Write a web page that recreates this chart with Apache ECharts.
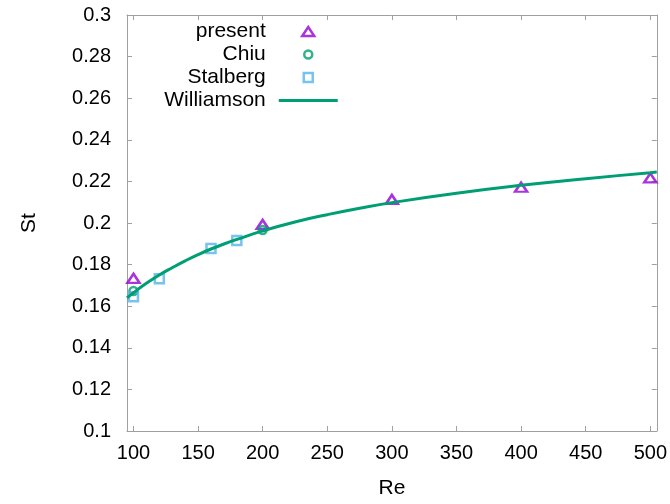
<!DOCTYPE html>
<html>
<head>
<meta charset="utf-8">
<script src="https://cdn.jsdelivr.net/npm/echarts@6/dist/echarts.min.js"></script>
<style>
html, body { margin: 0; padding: 0; background: #fff; }
#main { width: 670px; height: 504px; }
</style>
</head>
<body>
<div id="main"></div>
<script>
// tick labels
var xTicks = [100, 150, 200, 250, 300, 350, 400, 450, 500];
var yTicks = [0.1, 0.12, 0.14, 0.16, 0.18, 0.2, 0.22, 0.24, 0.26, 0.28, 0.3];

// present (triangles)
var presentRe = [100, 200, 300, 400, 500];
var presentSt = [0.1734, 0.1993, 0.2113, 0.2172, 0.2217];
// Chiu (circles)
var chiuRe = [100, 200];
var chiuSt = [0.1673, 0.1966];
// Stalberg (squares)
var stalbergRe = [100, 120, 160, 180];
var stalbergSt = [0.1646, 0.1732, 0.1878, 0.1916];
// Williamson curve
var willRe = [95, 100, 110, 120, 130, 140, 150, 160, 170, 180, 200, 225, 250, 275, 300, 350, 400, 450, 500, 505];
var willSt = [0.1640, 0.1665, 0.1710, 0.1750, 0.1785, 0.1818, 0.1848, 0.1875, 0.1899, 0.1921, 0.1962, 0.2005, 0.2040, 0.2071, 0.2098, 0.2143, 0.2181, 0.2213, 0.2242, 0.2245];

function pairs(xs, ys) {
    return xs.map(function (x, i) { return [x, ys[i]]; });
}

var purple = '#9400d3', green = '#009e73', blue = '#56b4e9';
var frameColor = '#a0a0a0';
var font = '"Liberation Sans", Arial, sans-serif';
// legend icons drawn in a 59x12 box (first two moves fix the box)
var box = 'path://M0,0M59,12';
var icons = {
    tri: box + 'M23.5,10.5L29.5,1.5L35.5,10.5Z',
    circ: box + 'M33.5,6A4,4,0,1,1,25.5,6A4,4,0,1,1,33.5,6Z',
    sq: box + 'M25,1.5H34V10.5H25Z',
    line: box + 'M0,4.5H59V7.5H0Z'
};

var myChart = echarts.init(document.getElementById('main'));
var option = {
    backgroundColor: '#fff',
    animation: false,
    textStyle: { fontFamily: font },
    grid: { left: 127, right: 13, top: 15, bottom: 72, containLabel: false },
    legend: {
        orient: 'vertical',
        align: 'right',
        right: 331,
        top: 21,
        padding: 0,
        itemWidth: 59,
        itemHeight: 12,
        itemGap: 2,
        selectedMode: false,
        textStyle: { fontSize: 21, color: '#000', fontFamily: font, lineHeight: 21, padding: [0, 8, 0, 0] },
        data: [
            { name: 'present', icon: icons.tri, itemStyle: { color: 'rgba(0,0,0,0)', borderColor: purple, borderWidth: 2.5 } },
            { name: 'Chiu', icon: icons.circ, itemStyle: { color: 'rgba(0,0,0,0)', borderColor: green, borderWidth: 2.5 } },
            { name: 'Stalberg', icon: icons.sq, itemStyle: { color: 'rgba(0,0,0,0)', borderColor: blue, borderWidth: 2.5 } },
            { name: 'Williamson', icon: icons.line, itemStyle: { color: green, borderWidth: 0 } }
        ]
    },
    xAxis: [{
        type: 'value',
        min: 95,
        max: 505,
        name: 'Re',
        nameLocation: 'middle',
        nameGap: 47,
        nameTextStyle: { fontSize: 21, color: '#000', fontFamily: font },
        axisLine: { show: true, lineStyle: { color: frameColor, width: 1 } },
        axisTick: { show: true, inside: true, length: 5, customValues: xTicks, lineStyle: { color: frameColor } },
        axisLabel: { show: true, margin: 12, fontSize: 20, color: '#000', customValues: xTicks },
        splitLine: { show: false }
    }, {
        type: 'value',
        position: 'top',
        min: 95,
        max: 505,
        axisLine: { show: true, lineStyle: { color: frameColor, width: 1 } },
        axisTick: { show: true, inside: true, length: 5, customValues: xTicks, lineStyle: { color: frameColor } },
        axisLabel: { show: false },
        splitLine: { show: false }
    }],
    yAxis: [{
        type: 'value',
        min: 0.1,
        max: 0.3,
        name: 'St',
        nameLocation: 'middle',
        nameGap: 87,
        nameRotate: 90,
        nameTextStyle: { fontSize: 21, color: '#000', fontFamily: font },
        axisLine: { show: true, lineStyle: { color: frameColor, width: 1 } },
        axisTick: { show: true, inside: true, length: 5, customValues: yTicks, lineStyle: { color: frameColor } },
        axisLabel: {
            show: true, margin: 16, fontSize: 20, color: '#000', customValues: yTicks,
            formatter: function (v) { return String(Math.round(v * 100) / 100); }
        },
        splitLine: { show: false }
    }, {
        type: 'value',
        position: 'right',
        min: 0.1,
        max: 0.3,
        axisLine: { show: true, lineStyle: { color: frameColor, width: 1 } },
        axisTick: { show: true, inside: true, length: 5, customValues: yTicks, lineStyle: { color: frameColor } },
        axisLabel: { show: false },
        splitLine: { show: false }
    }],
    series: [{
        name: 'present',
        type: 'scatter',
        symbol: 'triangle',
        symbolSize: [12, 9],
        itemStyle: { color: 'rgba(0,0,0,0)', borderColor: purple, borderWidth: 2.5 },
        data: pairs(presentRe, presentSt)
    }, {
        name: 'Chiu',
        type: 'scatter',
        symbol: 'circle',
        symbolSize: 8,
        itemStyle: { color: 'rgba(0,0,0,0)', borderColor: green, borderWidth: 2.5 },
        data: pairs(chiuRe, chiuSt)
    }, {
        name: 'Stalberg',
        type: 'scatter',
        symbol: 'rect',
        symbolSize: 9,
        itemStyle: { color: 'rgba(0,0,0,0)', borderColor: blue, borderWidth: 2.5 },
        data: pairs(stalbergRe, stalbergSt)
    }, {
        name: 'Williamson',
        type: 'line',
        smooth: true,
        symbol: 'none',
        itemStyle: { color: green },
        lineStyle: { color: green, width: 3 },
        data: pairs(willRe, willSt)
    }]
};
myChart.setOption(option, true);
</script>
</body>
</html>
